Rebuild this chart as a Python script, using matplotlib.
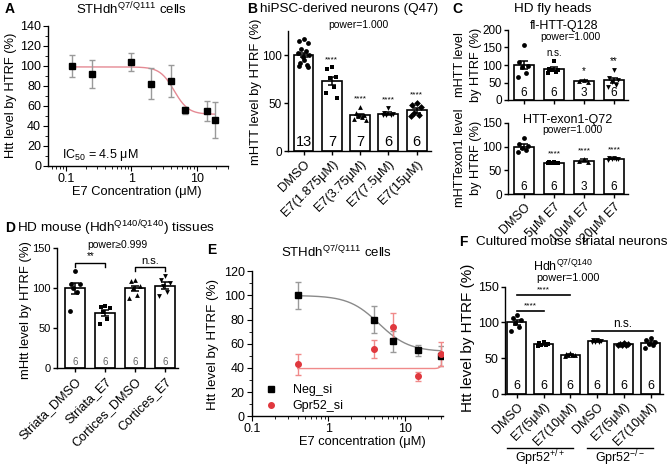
import numpy as np
import matplotlib
matplotlib.use('Agg')
import matplotlib.pyplot as plt
from matplotlib.lines import Line2D
from matplotlib.ticker import LogLocator, NullFormatter, MultipleLocator, FixedLocator, FixedFormatter

plt.rcParams['font.family'] = ['Liberation Sans', 'DejaVu Sans']
plt.rcParams['mathtext.fontset'] = 'custom'
plt.rcParams['mathtext.rm'] = 'Liberation Sans'
plt.rcParams['mathtext.it'] = 'Liberation Sans:italic'
plt.rcParams['mathtext.bf'] = 'Liberation Sans:bold'
plt.rcParams['axes.linewidth'] = 1.0

# ---------------- data ----------------
# A
a_conc = [0.125, 0.25, 1, 2, 4, 6.5, 14.5, 19]
a_htt = [100, 92, 104, 82, 85, 55.5, 54.5, 46]
a_err = [11, 14, 9, 15.5, 16, 3.5, 10, 18]
a_fit = dict(top=99, bottom=51.5, ic50=4.5, hill=4.0)

# B
b_labels = ['DMSO', 'E7(1.875μM)', 'E7(3.75μM)', 'E7(7.5μM)', 'E7(15μM)']
b_mean = [100, 73, 37, 39, 42.5]
b_sem = [2.5, 4.5, 1.5, 1.2, 2.5]
b_n = [13, 7, 7, 6, 6]
b_points = [[117, 115, 112, 106, 104, 102, 100, 98, 95, 92, 90, 89, 88],
            [87, 85, 77, 76, 67, 60, 55],
            [46, 40, 38, 36, 35, 33, 32],
            [45, 40, 39, 38, 37.5, 37],
            [50, 48, 46, 40, 37, 36]]
b_stars = ['', '****', '****', '****', '****']

# C
c_labels = ['DMSO', '5μM E7', '10μM E7', '20μM E7']
c1_mean = [100, 88, 55, 56]
c1_sem = [12, 5, 2, 7]
c1_n = [6, 6, 3, 6]
c1_points = [[157, 109, 98, 95, 76, 66],
             [110, 90, 87, 85, 80, 76],
             [58, 55, 52],
             [86, 62, 58, 52, 42, 38]]
c1_stars = ['', 'n.s.', '*', '**']
c2_mean = [100, 66, 70.5, 74.5]
c2_sem = [4.5, 1, 2.5, 1]
c2_n = [6, 6, 3, 6]
c2_points = [[117, 105, 102, 98, 92, 88],
             [68, 67, 66, 66, 65, 65],
             [75, 70, 67],
             [77, 76, 75, 74, 73, 72]]
c2_stars = ['', '****', '****', '****']

# D
d_labels = ['Striata_DMSO', 'Striata_E7', 'Cortices_DMSO', 'Cortices_E7']
d_mean = [100, 69.5, 100, 103.5]
d_sem = [6.5, 3.5, 3.5, 4]
d_n = [6, 6, 6, 6]
d_points = [[122, 106, 105, 100, 95, 72],
            [78, 77, 76, 70, 62, 56],
            [110, 109, 103, 100, 92, 88],
            [115, 110, 107, 103, 96, 90]]

# E
e_conc = [0.4, 4, 7, 15, 30]
e_neg = [100, 80, 62, 54.5, 50]
e_neg_err = [11, 11, 8.5, 4.5, 8.5]
e_gpr = [43, 55.5, 73.5, 33, 51.5]
e_gpr_err = [8.5, 7.5, 12, 3.5, 10]
e_neg_fit = dict(top=100, bottom=53.5, ic50=4.6, hill=2.2)
e_gpr_fit = dict(top=60, bottom=39.5, ic50=33, hill=20)

# F
f_labels = ['DMSO', 'E7(5μM)', 'E7(10μM)', 'DMSO', 'E7(5μM)', 'E7(10μM)']
f_mean = [100, 69.5, 55, 74, 69.5, 71.5]
f_sem = [3.5, 1, 0.8, 0.8, 0.6, 2]
f_n = [6, 6, 6, 6, 6, 6]
f_points = [[110, 106, 103, 99, 94, 88],
            [72, 71, 70, 69, 68, 67],
            [57, 56, 55, 55, 54, 53],
            [76, 75, 74, 73, 73, 72],
            [71, 70, 70, 69, 69, 68],
            [78, 75, 72, 70, 68, 65]]

# ---------------- figure ----------------
W, H = 667, 468
fig = plt.figure(figsize=(W / 100, H / 100), dpi=100)


def add_ax(l, t, r, b):
    return fig.add_axes([l / W, 1 - b / H, (r - l) / W, (b - t) / H])


def ftext(x, y, s, **kw):
    kw.setdefault('ha', 'center')
    kw.setdefault('va', 'center')
    return fig.text(x / W, 1 - y / H, s, **kw)


def fig_line(x1, x2, y):
    fig.add_artist(Line2D([x1 / W, x2 / W], [1 - y / H, 1 - y / H], color='black', lw=1.0,
                          transform=fig.transFigure))


def logistic(x, top, bottom, ic50, hill):
    return bottom + (top - bottom) / (1 + (x / ic50) ** hill)


def rising(x, top, bottom, ic50, hill):
    r = (x / ic50) ** hill
    return bottom + (top - bottom) * r / (1 + r)


def style(ax):
    for s in ['top', 'right']:
        ax.spines[s].set_visible(False)


JIT = np.array([0, -1, 1, -0.5, 0.5, -1.3, 1.3, -0.2, 0.2, -0.8, 0.8, -1.1, 1.1])


def bar_panel(ax, means, sems, points, ns, markers, labels, width, n_y, n_size=8, n_color='black',
              tick_size=8, lab_size=8):
    x = np.arange(len(means))
    ax.bar(x, means, width=width, color='white', edgecolor='black', linewidth=1.2, zorder=1)
    for i, pts in enumerate(points):
        offs = JIT[:len(pts)] * width * 0.22
        ax.scatter(i + offs, pts, s=12, marker=markers[i], color='black', zorder=2, linewidths=0)
    ax.errorbar(x, means, yerr=sems, fmt='none', ecolor='black', elinewidth=1.1, capsize=3,
                capthick=1.1, zorder=3)
    for i, n in enumerate(ns):
        ax.text(i, n_y, str(n), ha='center', va='bottom', fontsize=n_size, color=n_color, zorder=4)
    style(ax)
    ax.set_xticks(x)
    ax.set_xticklabels(labels, rotation=45, ha='right', rotation_mode='anchor', fontsize=lab_size)
    ax.tick_params(axis='both', direction='out', length=3, width=1, labelsize=tick_size, pad=1.5)
    ax.tick_params(axis='x', labelsize=lab_size, pad=2)


def stars(ax, labels, points, size=6, off=3):
    for i, s in enumerate(labels):
        if s:
            ax.annotate(s, (i, max(points[i])), xytext=(0, off), textcoords='offset points',
                        ha='center', va='bottom', fontsize=size)


# ---------- Panel A ----------
axA = add_ax(48, 26, 228, 165.7)
xs = np.logspace(np.log10(a_conc[0]), np.log10(a_conc[-1]), 200)
axA.plot(xs, logistic(xs, **a_fit), color='#e58a94', lw=1.0, zorder=1)
axA.errorbar(a_conc, a_htt, yerr=a_err, fmt='s', color='black', ms=4, ecolor='#9a9a9a',
             elinewidth=1, capsize=2.5, capthick=1, zorder=3)
axA.set_xscale('log')
axA.set_xlim(0.053, 30)
axA.set_ylim(0, 140)
axA.set_yticks(range(0, 141, 20))
axA.yaxis.set_minor_locator(MultipleLocator(10))
axA.xaxis.set_major_locator(FixedLocator([0.1, 1, 10]))
axA.xaxis.set_major_formatter(FixedFormatter(['0.1', '1', '10']))
axA.xaxis.set_minor_locator(LogLocator(base=10, subs=np.arange(2, 10)))
axA.xaxis.set_minor_formatter(NullFormatter())
axA.tick_params(axis='both', which='major', direction='out', length=3.5, labelsize=9, pad=1.5)
axA.tick_params(axis='both', which='minor', direction='out', length=2)
style(axA)
ftext(5, 9, 'A', fontsize=10, fontweight='bold', ha='left')
ftext(132, 9, r'STHdh$^{\mathrm{Q7/Q111}}$ cells', fontsize=9.5)
ftext(62, 155, r'IC$_{\mathrm{50}}$ = 4.5 μM', fontsize=9, ha='left')
ftext(11, 95, 'Htt level by HTRF (%)', fontsize=9.3, rotation=90)
ftext(137, 192, 'E7 Concentration (μM)', fontsize=9.3)

# ---------- Panel B ----------
axB = add_ax(288, 31, 430.8, 151)
bar_panel(axB, b_mean, b_sem, b_points, b_n, ['o', 's', '^', 'v', 'D'], b_labels, 0.7,
          n_y=2, n_size=10.5, tick_size=8.5, lab_size=9.3)
stars(axB, b_stars, b_points)
axB.set_xlim(-0.55, 4.5)
axB.set_ylim(0, 125)
axB.set_yticks([0, 50, 100])
ftext(247, 9, 'B', fontsize=10, fontweight='bold', ha='left')
ftext(260, 9, 'hiPSC-derived neurons (Q47)', fontsize=9.7, ha='left')
ftext(358, 25, 'power=1.000', fontsize=7.5)
ftext(255.5, 92, 'mHTT level by HTRF (%)', fontsize=9.4, rotation=90)

# ---------- Panel C ----------
axC1 = add_ax(508.3, 30, 627.7, 100)
bar_panel(axC1, c1_mean, c1_sem, c1_points, c1_n, ['o', 's', '^', 'v'], [''] * 4, 0.667,
          n_y=2, n_size=8.5, tick_size=8.5)
stars(axC1, c1_stars, c1_points, size=7, off=2.5)
axC1.set_xlim(-0.52, 3.46)
axC1.set_ylim(0, 200)
axC1.set_yticks([0, 50, 100, 150, 200])

axC2 = add_ax(508.3, 122.7, 627.7, 194.3)
bar_panel(axC2, c2_mean, c2_sem, c2_points, c2_n, ['o', 's', '^', 'v'], c_labels, 0.667,
          n_y=3, n_size=8.5, tick_size=8.5, lab_size=9)
stars(axC2, c2_stars, c2_points, size=6, off=3)
axC2.set_xlim(-0.52, 3.46)
axC2.set_ylim(0, 150)
axC2.set_yticks([0, 50, 100, 150])

ftext(452, 9, 'C', fontsize=10, fontweight='bold', ha='left')
ftext(553, 9, 'HD fly heads', fontsize=9.7)
ftext(564, 26.5, 'fl-HTT-Q128', fontsize=9)
ftext(570, 37.5, 'power=1.000', fontsize=7.5)
ftext(460, 65, 'mHTT level', fontsize=9.2, rotation=90)
ftext(476, 65, 'by HTRF (%)', fontsize=9.2, rotation=90)
ftext(568, 120, 'HTT-exon1-Q72', fontsize=9)
ftext(572, 130, 'power=1.000', fontsize=7.5)
ftext(460, 158, 'mHTTexon1 level', fontsize=9.2, rotation=90)
ftext(476, 158, 'by HTRF (%)', fontsize=9.2, rotation=90)

# ---------- Panel D ----------
axD = add_ax(56.7, 248.3, 178.3, 368.3)
bar_panel(axD, d_mean, d_sem, d_points, d_n, ['o', 's', '^', 'v'], d_labels, 0.667,
          n_y=2, n_size=7, n_color='#666666', tick_size=8, lab_size=9.2)
axD.set_xlim(-0.62, 3.44)
axD.set_ylim(0, 150)
axD.set_yticks([0, 50, 100, 150])
for (i0, i1, yb, lab) in [(0, 1, 132, '**'), (2, 3, 126.3, 'n.s.')]:
    axD.plot([i0, i0, i1, i1], [yb - 5, yb, yb, yb - 5], color='black', lw=1.0, clip_on=False)
    axD.text((i0 + i1) / 2, yb + 1.5, lab, ha='center', va='bottom', fontsize=7 if lab == '**' else 8)
ftext(5, 228, 'D', fontsize=10, fontweight='bold', ha='left')
ftext(17, 228, r'HD mouse (Hdh$^{\mathrm{Q140/Q140}}$) tissues', fontsize=9.7, ha='left')
ftext(117, 245, 'power≥0.999', fontsize=7.5)
ftext(26.5, 310, 'mHtt level by HTRF (%)', fontsize=9.4, rotation=90)

# ---------- Panel E ----------
axE = add_ax(251.7, 271.3, 443.3, 416.3)
xs = np.logspace(np.log10(e_conc[0]), np.log10(e_conc[-1]), 300)
axE.plot(xs, logistic(xs, **e_neg_fit), color='#8a8a8a', lw=1.0, zorder=1)
axE.plot(xs, rising(xs, **e_gpr_fit), color='#f08a8a', lw=1.0, zorder=1)
axE.errorbar(e_conc, e_neg, yerr=e_neg_err, fmt='s', color='black', ms=4, ecolor='#9a9a9a',
             elinewidth=1, capsize=2.5, capthick=1, zorder=3)
axE.errorbar(e_conc, e_gpr, yerr=e_gpr_err, fmt='o', color='#e0383e', ms=4, ecolor='#f08a8a',
             elinewidth=1, capsize=2.5, capthick=1, zorder=3)
axE.set_xscale('log')
axE.set_xlim(0.1, 32)
axE.set_ylim(0, 120)
axE.set_yticks(range(0, 121, 20))
axE.yaxis.set_minor_locator(MultipleLocator(10))
axE.xaxis.set_major_locator(FixedLocator([0.1, 1, 10]))
axE.xaxis.set_major_formatter(FixedFormatter(['0.1', '1', '10']))
axE.xaxis.set_minor_locator(LogLocator(base=10, subs=np.arange(2, 10)))
axE.xaxis.set_minor_formatter(NullFormatter())
axE.tick_params(axis='both', which='major', direction='out', length=3.5, labelsize=9, pad=1.5)
axE.tick_params(axis='both', which='minor', direction='out', length=2)
style(axE)
handles = [Line2D([], [], marker='s', color='black', ls='none', ms=4),
           Line2D([], [], marker='o', color='#e0383e', ls='none', ms=4)]
axE.legend(handles, ['Neg_si', 'Gpr52_si'], loc='lower left', bbox_to_anchor=(0.07, 0.03),
           frameon=False, fontsize=9, handlelength=1.0, handletextpad=1.2, labelspacing=0.3,
           borderpad=0, borderaxespad=0)
ftext(207, 250, 'E', fontsize=10, fontweight='bold', ha='left')
ftext(337, 251.5, r'STHdh$^{\mathrm{Q7/Q111}}$ cells', fontsize=9.5)
ftext(213, 344, 'Htt level by HTRF (%)', fontsize=9.6, rotation=90)
ftext(362, 441.5, 'E7 concentration (μM)', fontsize=9.3)

# ---------- Panel F ----------
axF = add_ax(505, 286.7, 662.7, 394)
bar_panel(axF, f_mean, f_sem, f_points, f_n, ['o', 's', '^', 'v', 'D', 'o'], f_labels, 0.71,
          n_y=3, n_size=9, tick_size=9, lab_size=9)
axF.set_xlim(-0.44, 5.45)
axF.set_ylim(0, 150)
axF.set_yticks([0, 50, 100, 150])
for (x0, x1, yl, lab, sz) in [(0, 2, 138, '****', 6), (0, 1, 116.4, '****', 6), (2.8, 5.1, 88, 'n.s.', 8.5)]:
    axF.plot([x0, x1], [yl, yl], color='black', lw=1.2, clip_on=False)
    axF.text((x0 + x1) / 2, yl + 2, lab, ha='center', va='bottom', fontsize=sz)
ftext(459, 242.3, 'F', fontsize=10, fontweight='bold', ha='left')
ftext(476, 242.3, 'Cultured mouse striatal neurons', fontsize=9.7, ha='left')
ftext(563, 265.5, r'Hdh$^{\mathrm{Q7/Q140}}$', fontsize=9)
ftext(568, 278, 'power=1.000', fontsize=7.8)
ftext(468, 338, 'Htt level by HTRF (%)', fontsize=11, rotation=90)
fig_line(506.7, 573.3, 448.3)
fig_line(586.7, 653.3, 448.3)
ftext(540, 458.5, r'Gpr52$^{\mathrm{+/+}}$', fontsize=9)
ftext(620, 458.5, r'Gpr52$^{\mathrm{-/-}}$', fontsize=9)

fig.savefig('out.png', dpi=100)
